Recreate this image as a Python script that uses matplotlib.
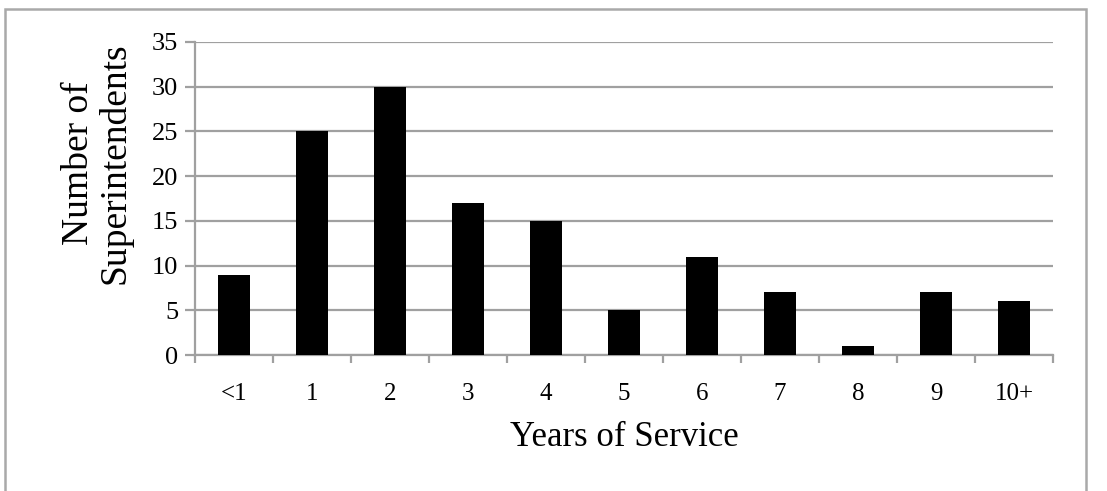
import matplotlib.pyplot as plt
from matplotlib.patches import Rectangle

# Dados do gráfico
categorias = ['<1', '1', '2', '3', '4', '5', '6', '7', '8', '9', '10+']
superintendentes = [9, 25, 30, 17, 15, 5, 11, 7, 1, 7, 6]

plt.rcParams['font.family'] = ['Liberation Serif', 'DejaVu Serif']

fig = plt.figure(figsize=(11.07, 4.91), dpi=100)
ax = fig.add_axes([195 / 1107, 1 - 355 / 491, (1053 - 195) / 1107, (355 - 42) / 491])

x = list(range(len(categorias)))
ax.bar(x, superintendentes, width=0.4, color='black', zorder=3)

grid_color = '#a0a0a0'
ax.set_xlim(-0.5, len(categorias) - 0.5)
ax.set_ylim(0, 35)
ax.set_yticks(range(0, 36, 5))
ax.yaxis.grid(True, color=grid_color, linewidth=1.6, zorder=0)

for lado in ['top', 'right']:
    ax.spines[lado].set_visible(False)
ax.spines['left'].set_color(grid_color)
ax.spines['left'].set_linewidth(1.6)
ax.spines['bottom'].set_color(grid_color)
ax.spines['bottom'].set_linewidth(1.6)

# rótulos nas categorias, marcas entre elas
ax.set_xticks(x)
ax.set_xticklabels(categorias)
ax.set_xticks([i - 0.5 for i in range(len(categorias) + 1)], minor=True)
ax.tick_params(axis='x', which='major', length=0, pad=20, labelsize=18)
ax.tick_params(axis='x', which='minor', length=6, width=1.6, color=grid_color, direction='out')
ax.tick_params(axis='y', length=7, width=1.6, color=grid_color, pad=5, labelsize=19)

ax.set_xlabel('Years of Service', fontsize=25, labelpad=12)
fig.text(0.088, 0.668, 'Number of\nSuperintendents', rotation=90, fontsize=27,
         ha='center', va='center', linespacing=1.05)

# moldura externa
fig.patches.append(Rectangle((5 / 1107, -0.05), (1086 - 5) / 1107, 1.05 - 9 / 491,
                             transform=fig.transFigure, fill=False,
                             edgecolor='#a9a9a9', linewidth=1.8))

fig.savefig('out.png', dpi=100)
